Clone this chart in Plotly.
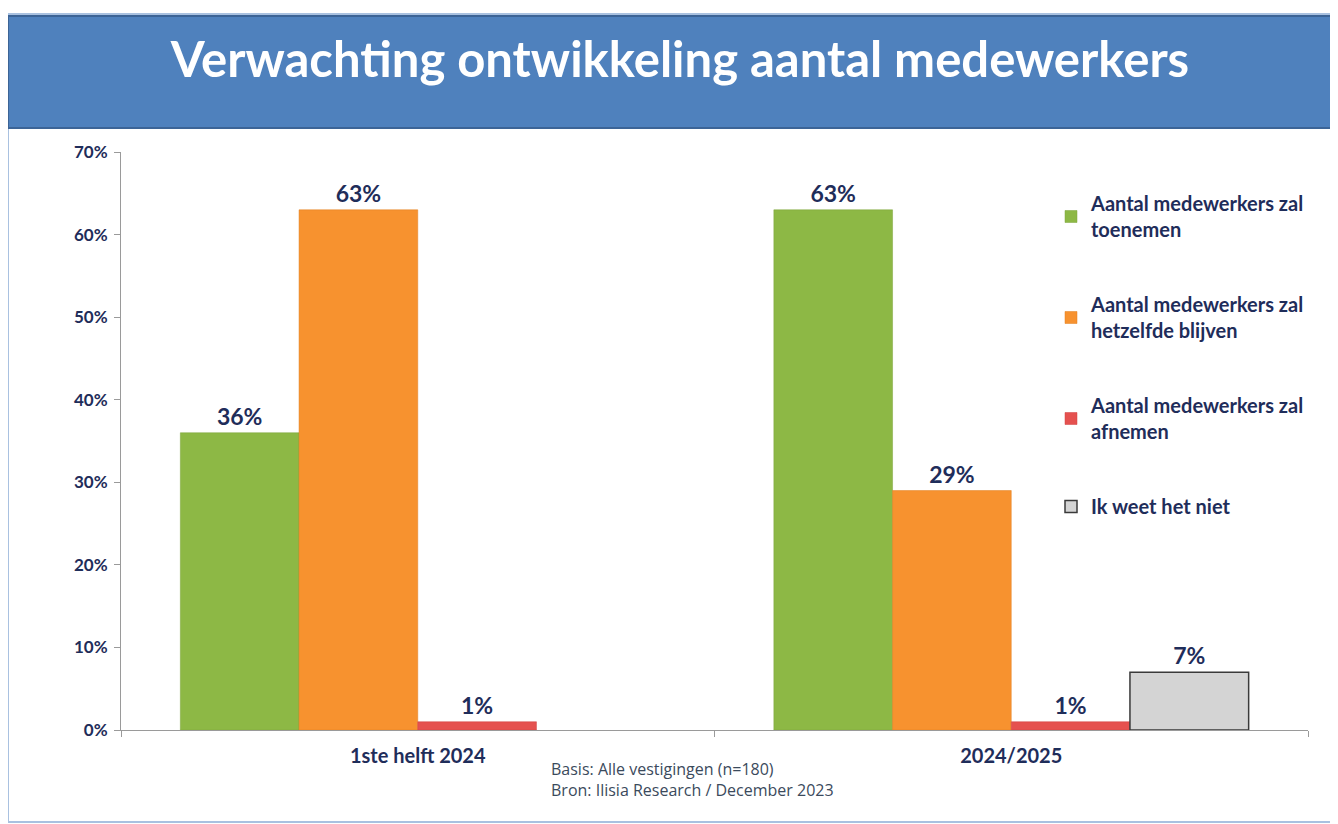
import plotly.graph_objects as go

categories = ["1ste helft 2024", "2024/2025"]
series_names = [
    "Aantal medewerkers zal<br>toenemen",
    "Aantal medewerkers zal<br>hetzelfde blijven",
    "Aantal medewerkers zal<br>afnemen",
    "Ik weet het niet",
]
toenemen = [0.36, 0.63]
hetzelfde = [0.63, 0.29]
afnemen = [0.01, 0.01]
weet_niet = [None, 0.07]
y_ticks = [0, 0.1, 0.2, 0.3, 0.4, 0.5, 0.6, 0.7]
y_tick_labels = ["0%", "10%", "20%", "30%", "40%", "50%", "60%", "70%"]

series_values = [toenemen, hetzelfde, afnemen, weet_niet]
colors = ["#8DB845", "#F7922F", "#E5514F", "#D4D4D4"]
line_colors = ["#7DA53A", "#E07F1F", "#D04040", "#3A3A3A"]
line_widths = [0.5, 0.5, 0.5, 1.5]

OFF = 8  # page body margin
W, H = 1330, 816
# plot area in screen coords: x 121..1308, y 152..730
L, T = 121 - OFF, 152 - OFF
R = W - (1308 - OFF)
B = H - (730 - OFF)
pw, ph = W - L - R, H - T - B

def px(x):
    return (x - OFF - L) / pw

def py(y):
    return (H - B - (y - OFF)) / ph

navy = "#1F2D5A"
fig = go.Figure()
for i, (name, vals) in enumerate(zip(series_names, series_values)):
    fig.add_trace(go.Bar(
        x=categories, y=vals, name=name,
        marker=dict(color=colors[i], line=dict(color=line_colors[i], width=line_widths[i])),
        texttemplate="%{y:.0%}", textposition="outside", cliponaxis=False,
        textfont=dict(family="Lato", size=23, color=navy, weight="bold"),
        legendgroup=f"g{i}",
    ))

shapes = [
    dict(type="rect", xref="paper", yref="paper", x0=px(8), x1=px(1345), y0=py(822), y1=py(14),
         line=dict(color="#A9C1E0", width=2), fillcolor="rgba(0,0,0,0)", layer="below"),
    dict(type="rect", xref="paper", yref="paper", x0=px(8), x1=px(1345), y0=py(128), y1=py(16),
         line=dict(color="#3C6496", width=2), fillcolor="#4F81BD", layer="below"),
]

annotations = [
    dict(text="Basis: Alle vestigingen (n=180)<br>Bron: Ilisia Research / December 2023",
         xref="paper", yref="paper", x=px(549), y=py(756), xanchor="left", yanchor="top",
         showarrow=False, align="left",
         font=dict(family="Open Sans", size=16, color="#3B4A5C")),
]

fig.update_layout(
    width=W, height=H,
    margin=dict(l=L, r=R, t=T, b=B),
    paper_bgcolor="white", plot_bgcolor="white",
    title=dict(text="Verwachting ontwikkeling aantal medewerkers",
               x=(680 - OFF) / W, xanchor="center", y=1 - (60 - OFF) / H, yanchor="middle",
               font=dict(family="Lato", size=49, color="white", weight="bold")),
    barmode="group", bargap=0.2, bargroupgap=0,
    showlegend=True,
    legend=dict(x=px(1051), y=py(184), xanchor="left", yanchor="top",
                traceorder="grouped", tracegroupgap=46,
                font=dict(family="Lato", size=20, color=navy, weight="bold"),
                bgcolor="rgba(0,0,0,0)", itemwidth=30),
    shapes=shapes, annotations=annotations,
    xaxis=dict(showline=True, linecolor="#9A9A9A", linewidth=1, ticks="outside",
               tickson="boundaries", ticklen=6, tickcolor="#9A9A9A",
               ticklabelstandoff=8,
               tickfont=dict(family="Lato", size=20, color=navy, weight="bold"),
               showgrid=False),
    yaxis=dict(range=[0, 0.7], tickvals=y_ticks, ticktext=y_tick_labels,
               showline=True, linecolor="#9A9A9A", linewidth=1, ticks="outside", ticklen=6,
               tickcolor="#9A9A9A", showgrid=False, zeroline=False, ticklabelstandoff=3,
               tickfont=dict(family="Lato", size=17, color=navy, weight="bold")),
)

fig.write_html("out.html")
